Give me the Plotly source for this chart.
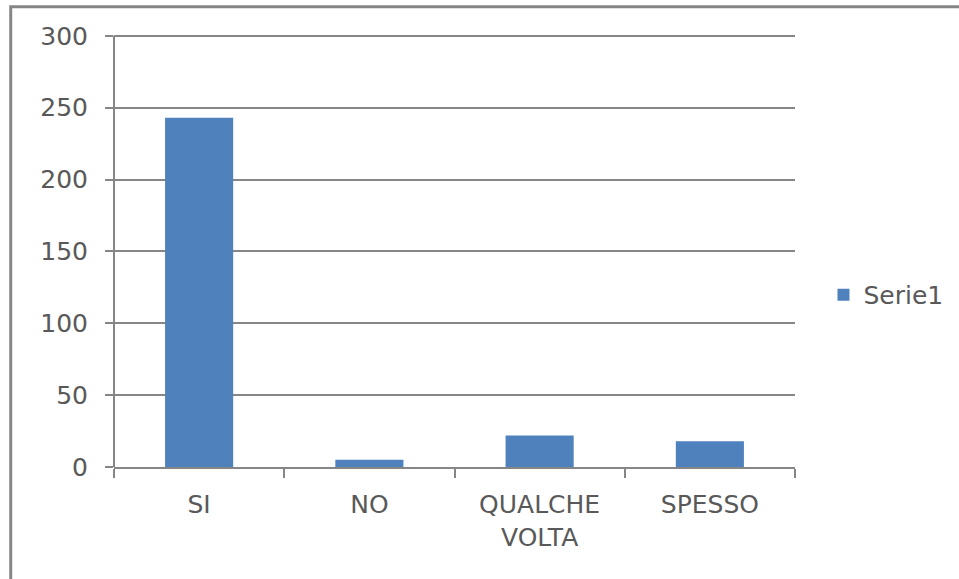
import plotly.graph_objects as go

# Survey answers and counts
categories = ["SI", "NO", "QUALCHE<br>VOLTA", "SPESSO"]
counts = [243, 5, 22, 18]
series_name = "Serie1"
y_ticks = [0, 50, 100, 150, 200, 250, 300]

W, H = 959, 579
y_max_tick = 300
y_top = 302  # a little headroom so the 300 gridline is drawn
L, R, B = 114, 162.5, 112
px_per_unit = (H - B - 36) / y_max_tick
T = H - B - y_top * px_per_unit
plot_w = W - L - R
plot_h = H - T - B

def px_to_paper_x(px):
    return (px - L) / plot_w

def px_to_paper_y(py):
    return (H - B - py) / plot_h

axis_grey = "#868686"
text_grey = "#595959"
font_family = "DejaVu Sans"

fig = go.Figure(
    go.Bar(
        x=categories,
        y=counts,
        name=series_name,
        marker=dict(color="#4F81BD", line=dict(width=0)),
        showlegend=True,
    )
)

# Chart-area frame (left and top edges visible)
frame_left = px_to_paper_x(10.5)
frame_top = px_to_paper_y(7)
fig.add_shape(
    type="path",
    xref="paper", yref="paper",
    path=f"M {frame_left} {px_to_paper_y(H + 20)} L {frame_left} {frame_top} L {px_to_paper_x(W + 20)} {frame_top}",
    line=dict(color=axis_grey, width=3),
)

fig.update_layout(
    width=W, height=H,
    margin=dict(l=L, r=R, t=T, b=B, pad=0),
    paper_bgcolor="white",
    plot_bgcolor="white",
    bargap=0.6,
    font=dict(family=font_family, size=25, color=text_grey),
    legend=dict(
        x=px_to_paper_x(824), y=px_to_paper_y(295),
        xanchor="left", yanchor="middle",
        font=dict(family=font_family, size=25, color=text_grey),
        bgcolor="rgba(0,0,0,0)",
        itemwidth=30,
    ),
    xaxis=dict(
        showgrid=False,
        showline=True, linecolor=axis_grey, linewidth=2,
        ticks="outside", ticklen=9, tickcolor=axis_grey, tickwidth=2,
        tickson="boundaries",
        ticklabelstandoff=14,
        tickfont=dict(family=font_family, size=25, color=text_grey),
        fixedrange=True,
    ),
    yaxis=dict(
        range=[0, y_top],
        tickvals=y_ticks,
        showgrid=True, gridcolor=axis_grey, gridwidth=2,
        showline=False,
        ticks="outside", ticklen=8, tickcolor=axis_grey, tickwidth=2,
        zeroline=False,
        ticklabelstandoff=12,
        tickfont=dict(family=font_family, size=25, color=text_grey),
        fixedrange=True,
    ),
)

# Value-axis line from 0 up to the top tick
fig.add_shape(
    type="line", xref="paper", yref="y",
    x0=0, x1=0, y0=0, y1=y_max_tick,
    line=dict(color=axis_grey, width=2),
)

fig.write_html("out.html")
